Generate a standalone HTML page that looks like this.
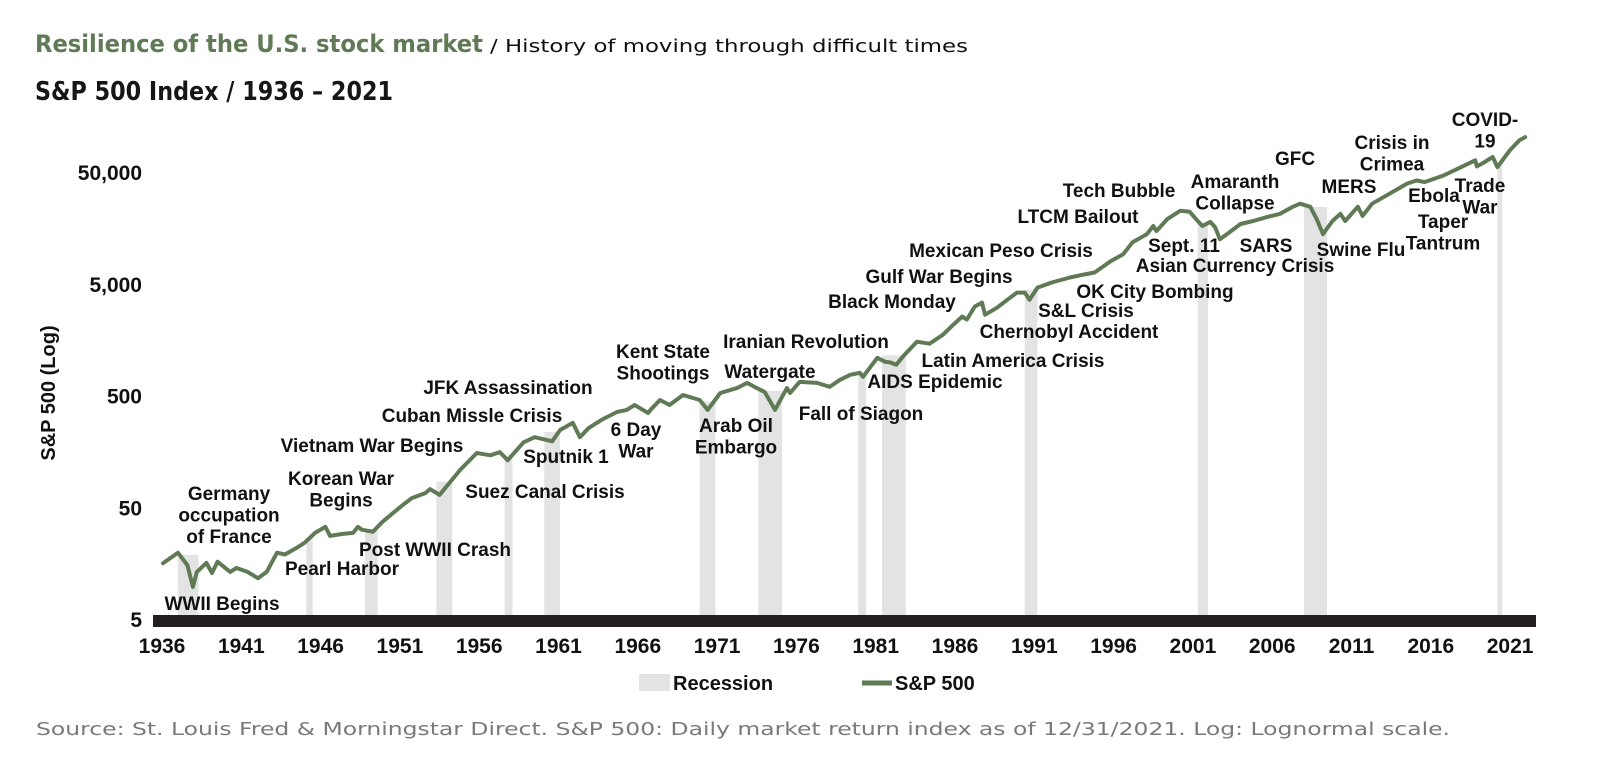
<!DOCTYPE html>
<html><head><meta charset="utf-8"><style>
html,body{margin:0;padding:0;background:#fff;}
svg{display:block;}
.ann{font-family:"Liberation Sans",Arial,sans-serif;font-weight:bold;font-size:19px;fill:#111;text-anchor:middle;}
.tick{font-family:"Liberation Sans",Arial,sans-serif;font-weight:bold;font-size:21px;fill:#111;}
</style></head><body>
<svg id="chart" width="1600" height="778" viewBox="0 0 1600 778" xmlns="http://www.w3.org/2000/svg">
<text x="35" y="52" font-family="'DejaVu Sans','Liberation Sans',sans-serif" font-size="24" font-weight="bold" fill="#5f7a55" textLength="448" lengthAdjust="spacingAndGlyphs">Resilience of the U.S. stock market</text>
<text x="490" y="52" font-family="'DejaVu Sans','Liberation Sans',sans-serif" font-size="18" fill="#111" textLength="478" lengthAdjust="spacingAndGlyphs">/ History of moving through difficult times</text>
<text x="35" y="100" font-family="'DejaVu Sans','Liberation Sans',sans-serif" font-size="26" font-weight="bold" fill="#161616" textLength="358" lengthAdjust="spacingAndGlyphs">S&amp;P 500 Index / 1936 – 2021</text>
<text transform="translate(55,393) rotate(-90)" text-anchor="middle" font-family="'Liberation Sans',Arial,sans-serif" font-weight="bold" font-size="20" fill="#111">S&amp;P 500 (Log)</text>
<g id="recessions"></g>
<rect x="153" y="615" width="1383" height="12" fill="#231f20"/>
<g id="yticks"></g>
<g id="xticks"></g>
<path id="line" fill="none" stroke="#5f7a55" stroke-width="4" stroke-linejoin="round" stroke-linecap="round"/>
<g id="annotations">
<text class="ann" x="222" y="610">WWII Begins</text>
<text class="ann" x="229" y="500">Germany<tspan x="229" dy="21.6">occupation</tspan><tspan x="229" dy="21.6">of France</tspan></text>
<text class="ann" x="341" y="485">Korean War<tspan x="341" dy="21.6">Begins</tspan></text>
<text class="ann" x="342" y="575">Pearl Harbor</text>
<text class="ann" x="435" y="556">Post WWII Crash</text>
<text class="ann" x="372" y="452">Vietnam War Begins</text>
<text class="ann" x="472" y="422">Cuban Missle Crisis</text>
<text class="ann" x="508" y="394">JFK Assassination</text>
<text class="ann" x="545" y="498">Suez Canal Crisis</text>
<text class="ann" x="566" y="463">Sputnik 1</text>
<text class="ann" x="636" y="436">6 Day<tspan x="636" dy="21.6">War</tspan></text>
<text class="ann" x="663" y="358">Kent State<tspan x="663" dy="21.6">Shootings</tspan></text>
<text class="ann" x="806" y="348">Iranian Revolution</text>
<text class="ann" x="770" y="378">Watergate</text>
<text class="ann" x="736" y="432">Arab Oil<tspan x="736" dy="21.6">Embargo</tspan></text>
<text class="ann" x="861" y="420">Fall of Siagon</text>
<text class="ann" x="935" y="388">AIDS Epidemic</text>
<text class="ann" x="1013" y="367">Latin America Crisis</text>
<text class="ann" x="892" y="308">Black Monday</text>
<text class="ann" x="939" y="283">Gulf War Begins</text>
<text class="ann" x="1001" y="257">Mexican Peso Crisis</text>
<text class="ann" x="1078" y="223">LTCM Bailout</text>
<text class="ann" x="1119" y="197">Tech Bubble</text>
<text class="ann" x="1086" y="317">S&amp;L Crisis</text>
<text class="ann" x="1069" y="338">Chernobyl Accident</text>
<text class="ann" x="1155" y="298">OK City Bombing</text>
<text class="ann" x="1184" y="252">Sept. 11</text>
<text class="ann" x="1235" y="272">Asian Currency Crisis</text>
<text class="ann" x="1235" y="188">Amaranth<tspan x="1235" dy="21.6">Collapse</tspan></text>
<text class="ann" x="1266" y="252">SARS</text>
<text class="ann" x="1295" y="165">GFC</text>
<text class="ann" x="1361" y="256">Swine Flu</text>
<text class="ann" x="1349" y="193">MERS</text>
<text class="ann" x="1392" y="149">Crisis in<tspan x="1392" dy="21.6">Crimea</tspan></text>
<text class="ann" x="1434" y="202">Ebola</text>
<text class="ann" x="1443" y="228">Taper<tspan x="1443" dy="21.6">Tantrum</tspan></text>
<text class="ann" x="1480" y="192">Trade<tspan x="1480" dy="21.6">War</tspan></text>
<text class="ann" x="1485" y="126">COVID-<tspan x="1485" dy="21.6">19</tspan></text>
</g>
<g>
<rect x="639" y="674" width="31" height="17" fill="#e3e3e3"/>
<text x="673" y="690" font-family="'Liberation Sans',Arial,sans-serif" font-weight="bold" font-size="20" fill="#111">Recession</text>
<line x1="862" y1="683" x2="892" y2="683" stroke="#5f7a55" stroke-width="5"/>
<text x="895" y="690" font-family="'Liberation Sans',Arial,sans-serif" font-weight="bold" font-size="20" fill="#111">S&amp;P 500</text>
</g>
<text x="36" y="735" font-family="'DejaVu Sans','Liberation Sans',sans-serif" font-size="18" fill="#7a7a7a" textLength="1414" lengthAdjust="spacingAndGlyphs">Source: St. Louis Fred &amp; Morningstar Direct. S&amp;P 500: Daily market return index as of 12/31/2021. Log: Lognormal scale.</text>
</svg>
<script>
const years = [1936.06,1937.0,1937.6,1937.95,1938.2,1938.8,1939.15,1939.5,1940.3,1940.7,1941.4,1942.05,1942.6,1943.25,1943.75,1944.5,1945.0,1945.65,1946.3,1946.6,1947.4,1948.05,1948.35,1948.6,1949.3,1949.9,1951.0,1951.75,1952.6,1952.9,1953.5,1954.8,1955.85,1956.7,1957.3,1957.8,1958.8,1959.5,1960.6,1961.1,1961.9,1962.35,1962.9,1963.8,1964.7,1965.3,1965.8,1966.65,1966.8,1967.4,1968.0,1968.85,1969.9,1970.4,1971.2,1972.25,1972.9,1973.5,1974.0,1974.65,1975.4,1975.6,1976.2,1977.3,1978.1,1978.75,1979.4,1980.0,1980.2,1981.1,1981.6,1981.9,1982.3,1982.7,1983.6,1984.4,1985.25,1985.9,1986.45,1986.75,1987.25,1987.7,1987.9,1988.65,1989.3,1989.9,1990.4,1990.7,1991.2,1992.1,1993.25,1994.1,1994.8,1995.8,1996.6,1997.2,1998.1,1998.5,1998.7,1999.4,2000.2,2000.8,2001.3,2001.6,2002.1,2002.4,2002.7,2003.15,2004.0,2004.8,2005.7,2006.5,2007.3,2007.75,2008.4,2008.8,2009.2,2009.8,2010.3,2010.6,2011.4,2011.7,2012.3,2013.4,2014.5,2015.1,2015.6,2016.8,2018.0,2018.8,2018.9,2019.3,2019.9,2020.2,2021.0,2021.6,2021.95];
const spValues = [15.8,19.6,15.2,9.7,13.2,15.9,12.9,16.3,13.2,14.3,13.2,11.6,13.2,19.6,18.9,21.7,24.1,29.5,33.4,27.7,28.9,29.5,33.4,31.5,30.2,37.1,50,60.5,67,72.8,64.5,108,153,146,156,132,191,212,195,246,285,212,256,308,357,372,412,349,372,457,412,506,457,372,527,584,650,584,538,372,584,527,663,650,600,692,767,800,736,1090,1003,991,943,1115,1520,1456,1760,2160,2550,2400,3140,3400,2650,3060,3600,4180,4180,3600,4630,5150,5700,6060,6320,7950,9200,11800,13950,16500,14850,19100,22550,22100,18300,16500,17950,16100,12550,13950,17200,18300,19900,21200,24500,26100,24500,19100,13950,18300,21200,18300,24500,20300,26100,32100,39500,42100,40800,46700,56400,63900,56400,60400,68400,55600,79000,97000,103000];
const recessionStart = [1937.0,1945.1,1948.8,1953.3,1957.6,1960.1,1969.9,1973.6,1979.9,1981.4,1990.4,2001.3,2008.0,2020.2];
const recessionEnd   = [1938.3,1945.5,1949.6,1954.3,1958.1,1961.1,1970.9,1975.1,1980.4,1982.9,1991.2,2001.95,2009.45,2020.5];
const yTickValues = [5,50,500,5000,50000];
const yTickLabels = ["5","50","500","5,000","50,000"];
const xTickYears = [1936,1941,1946,1951,1956,1961,1966,1971,1976,1981,1986,1991,1996,2001,2006,2011,2016,2021];

const NS = "http://www.w3.org/2000/svg";
function xScale(yr){ return 162 + (yr - 1936) * 15.86; }
function yScale(v){ return 619 - 111.7 * Math.log10(v / 5); }
function valueAt(yr){
  for (let i = 0; i < years.length - 1; i++) {
    if (yr >= years[i] && yr <= years[i+1]) {
      const t = (yr - years[i]) / (years[i+1] - years[i]);
      return Math.exp(Math.log(spValues[i]) * (1 - t) + Math.log(spValues[i+1]) * t);
    }
  }
  return spValues[yr < years[0] ? 0 : spValues.length - 1];
}

const rg = document.getElementById('recessions');
recessionStart.forEach((s, i) => {
  const e = recessionEnd[i];
  const top = Math.min(yScale(valueAt(s)), yScale(valueAt(e))) + 2;
  const r = document.createElementNS(NS, 'rect');
  r.setAttribute('x', xScale(s));
  r.setAttribute('width', Math.max(3, xScale(e) - xScale(s)));
  r.setAttribute('y', top);
  r.setAttribute('height', 615 - top);
  r.setAttribute('fill', '#e3e3e3');
  
  
  rg.appendChild(r);
});

const yg = document.getElementById('yticks');
yTickValues.forEach((v, i) => {
  const t = document.createElementNS(NS, 'text');
  t.setAttribute('class', 'tick');
  t.setAttribute('x', 142);
  t.setAttribute('y', yScale(v) + 8);
  t.setAttribute('text-anchor', 'end');
  t.textContent = yTickLabels[i];
  
  
  yg.appendChild(t);
});

const xg = document.getElementById('xticks');
xTickYears.forEach((yr) => {
  const t = document.createElementNS(NS, 'text');
  t.setAttribute('class', 'tick');
  t.setAttribute('x', xScale(yr));
  t.setAttribute('y', 653);
  t.setAttribute('text-anchor', 'middle');
  t.textContent = String(yr);
  
  
  xg.appendChild(t);
});

let d = '';
years.forEach((yr, i) => {
  d += (i ? 'L' : 'M') + xScale(yr).toFixed(1) + ' ' + yScale(spValues[i]).toFixed(1);
});
document.getElementById('line').setAttribute('d', d);
</script>
</body></html>
